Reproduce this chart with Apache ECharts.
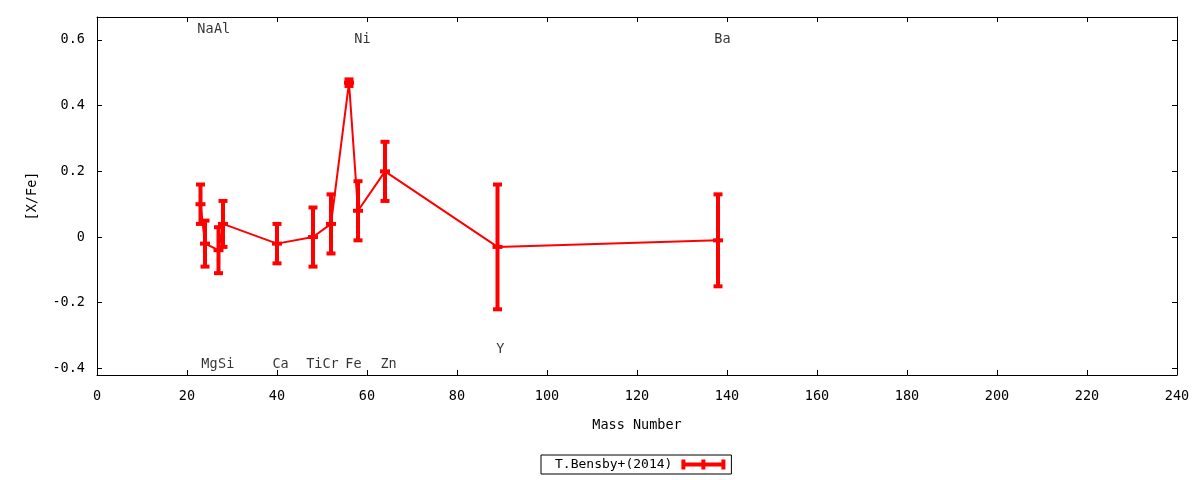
<!DOCTYPE html>
<html>
<head>
<meta charset="utf-8">
<script src="https://cdn.jsdelivr.net/npm/echarts@6/dist/echarts.min.js"></script>
<style>
html,body{margin:0;padding:0;background:#fff;}
#chart{width:1200px;height:480px;}
</style>
</head>
<body>
<div id="chart"></div>
<script>
// ---- data ----
const massNumber = [23, 24, 27, 28, 40, 48, 52, 56, 58, 64, 89, 138];
const xFe        = [0.10, -0.02, -0.04, 0.04, -0.02, 0.00, 0.04, 0.47, 0.08, 0.20, -0.03, -0.01];
const xFeErr     = [0.06, 0.07, 0.07, 0.07, 0.06, 0.09, 0.09, 0.01, 0.09, 0.09, 0.19, 0.14];

const elementNames = ['Na', 'Al', 'Ni', 'Ba', 'Mg', 'Si', 'Ca', 'Ti', 'Cr', 'Fe', 'Zn', 'Y'];
const elementLabelX = [24.1, 27.8, 59.0, 139.0, 25.0, 28.7, 40.8, 48.3, 51.9, 57.0, 64.8, 89.6];
const elementLabelY = [0.632, 0.632, 0.603, 0.603, -0.387, -0.387, -0.387, -0.387, -0.387, -0.387, -0.387, -0.343];

const xTicks = [0, 20, 40, 60, 80, 100, 120, 140, 160, 180, 200, 220, 240];
const yTicks = [-0.4, -0.2, 0, 0.2, 0.4, 0.6];
const seriesName = 'T.Bensby+(2014)';

// ---- chart ----
const FONT = 'DejaVu Sans Mono';
const FS = 13.5;
const RED = '#ff0000';
const chart = echarts.init(document.getElementById('chart'), null, {renderer: 'canvas'});

const yFmt = v => { const r = Math.round(v * 10) / 10; return r === 0 ? '0' : String(r); };

const lineData = massNumber.map((m, i) => [m, xFe[i]]);
const errData = massNumber.map((m, i) => [m, xFe[i], xFeErr[i]]);
const labelData = elementNames.map((n, i) => ({name: n, value: [elementLabelX[i], elementLabelY[i]]}));

const axisCommon = {
  axisLine: {show: true, onZero: false, lineStyle: {color: '#000', width: 1}},
  axisTick: {show: true, inside: true, length: 5, lineStyle: {color: '#000', width: 1}},
  splitLine: {show: false}
};

const legendIcon = 'path://M0,3L44,3L44,7L0,7Z M0,0L4,0L4,10L0,10Z M20,0L24,0L24,10L20,10Z M40,0L44,0L44,10L40,10Z';

chart.setOption({
  animation: false,
  backgroundColor: '#fff',
  textStyle: {fontFamily: FONT},
  grid: {left: 97, right: 23, top: 17, bottom: 105, containLabel: false},
  legend: {
    show: true,
    left: 541, top: 455,
    orient: 'horizontal',
    align: 'right',
    itemWidth: 44, itemHeight: 10,
    padding: [3, 6, 3, 14],
    borderColor: '#000', borderWidth: 1, borderRadius: 0,
    selectedMode: false,
    textStyle: {fontFamily: FONT, fontSize: 13, color: '#000', padding: [0, 4, 0, 0]},
    data: [{name: seriesName, icon: legendIcon, itemStyle: {color: RED}}]
  },
  xAxis: [
    Object.assign({}, axisCommon, {
      type: 'value', min: 0, max: 240, interval: 20, position: 'bottom',
      axisLabel: {show: true, margin: 14, color: '#000', fontFamily: FONT, fontSize: FS,
                  customValues: xTicks},
      axisTick: Object.assign({}, axisCommon.axisTick, {customValues: xTicks}),
      name: 'Mass Number', nameLocation: 'middle', nameGap: 43,
      nameTextStyle: {color: '#000', fontFamily: FONT, fontSize: FS}
    }),
    Object.assign({}, axisCommon, {
      type: 'value', min: 0, max: 240, interval: 20, position: 'top',
      axisLabel: {show: false},
      axisTick: Object.assign({}, axisCommon.axisTick, {customValues: xTicks})
    })
  ],
  yAxis: [
    Object.assign({}, axisCommon, {
      type: 'value', min: -0.42, max: 0.67, position: 'left',
      axisLabel: {show: true, margin: 12, color: '#000', fontFamily: FONT, fontSize: FS,
                  customValues: yTicks, formatter: yFmt},
      axisTick: Object.assign({}, axisCommon.axisTick, {customValues: yTicks}),
      name: '[X/Fe]', nameLocation: 'middle', nameGap: 58, nameRotate: 90,
      nameTextStyle: {color: '#000', fontFamily: FONT, fontSize: FS}
    }),
    Object.assign({}, axisCommon, {
      type: 'value', min: -0.42, max: 0.67, position: 'right',
      axisLabel: {show: false},
      axisTick: Object.assign({}, axisCommon.axisTick, {customValues: yTicks})
    })
  ],
  series: [
    {
      name: seriesName, type: 'line', data: lineData,
      symbol: 'none', showSymbol: false, silent: true, z: 2,
      itemStyle: {color: RED},
      lineStyle: {color: RED, width: 2}
    },
    {
      name: seriesName, type: 'custom', data: errData, silent: true, z: 3,
      itemStyle: {color: RED},
      renderItem: function (params, api) {
        const x = api.value(0), y = api.value(1), e = api.value(2);
        const p = api.coord([x, y]);
        const t = api.coord([x, y + e]);
        const b = api.coord([x, y - e]);
        const st = {fill: RED};
        return {
          type: 'group',
          children: [
            {type: 'rect', shape: {x: p[0] - 2, y: t[1], width: 4, height: b[1] - t[1]}, style: st},
            {type: 'rect', shape: {x: p[0] - 4.5, y: t[1] - 2, width: 9, height: 4}, style: st},
            {type: 'rect', shape: {x: p[0] - 4.5, y: b[1] - 2, width: 9, height: 4}, style: st},
            {type: 'rect', shape: {x: p[0] - 5, y: p[1] - 2, width: 10, height: 4}, style: st}
          ]
        };
      }
    },
    {
      name: 'labels', type: 'scatter', data: labelData, symbolSize: 0, silent: true, z: 4,
      label: {show: true, position: 'inside', formatter: '{b}', color: '#000',
              fontFamily: FONT, fontSize: FS}
    }
  ]
});
</script>
</body>
</html>
